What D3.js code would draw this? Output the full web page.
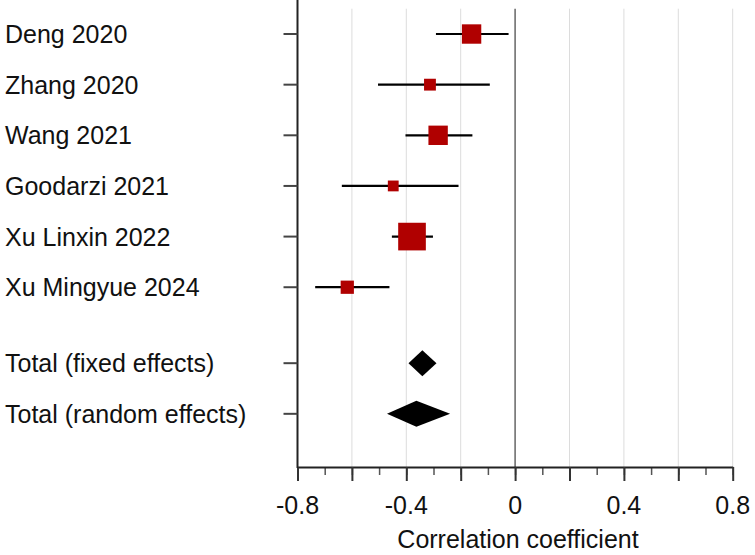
<!DOCTYPE html>
<html lang="en">
<head>
<meta charset="UTF-8">
<title>Forest plot</title>
<script src="https://d3js.org/d3.v7.min.js"></script>
<style>
  body { margin: 0; background: #fff; }
  svg { display: block; font-family: 'Liberation Sans', Arial, sans-serif; }
  .lbl { font-size: 25px; fill: #111; }
</style>
</head>
<body>
<svg width="755" height="555"></svg>
<script>
// study data
const studies = ["Deng 2020", "Zhang 2020", "Wang 2021", "Goodarzi 2021", "Xu Linxin 2022", "Xu Mingyue 2024"];
const estimate = [-0.160, -0.313, -0.283, -0.448, -0.379, -0.617];
const lower    = [-0.291, -0.504, -0.403, -0.637, -0.453, -0.735];
const upper    = [-0.024, -0.093, -0.157, -0.208, -0.302, -0.462];
const weight   = [19.3, 7.2, 19.3, 6.0, 39.3, 9.0];

// pooled
const pooled      = ["Total (fixed effects)", "Total (random effects)"];
const pooledEst   = [-0.341, -0.363];
const pooledLower = [-0.392, -0.471];
const pooledUpper = [-0.289, -0.239];

const xTicks = [-0.8, -0.4, 0, 0.4, 0.8];

const svg = d3.select("svg");

const x = d3.scaleLinear().domain([-0.8, 0.8]).range([297.5, 732.7]);
// row positions: studies 0..5, gap, pooled at 6.5 and 7.5
const y = d3.scaleLinear().domain([-0.5, 8.55]).range([8.7, 467]);
const size = d3.scaleSqrt().domain([0, 40]).range([0, 27.9]);

const rows = studies.map((s, i) => ({name: s, pos: i, est: estimate[i], lo: lower[i], hi: upper[i], w: weight[i]}));
const prow = pooled.map((s, i) => ({name: s, pos: 6.5 + i, est: pooledEst[i], lo: pooledLower[i], hi: pooledUpper[i]}));
const allRows = rows.concat(prow);

const yTop = y(-0.5), yBot = y(8.55);

// gridlines every 0.2
svg.append("g").selectAll("line")
  .data(d3.range(-0.6, 0.81, 0.2).filter(v => Math.abs(v) > 1e-6))
  .join("line")
  .attr("x1", d => x(d)).attr("x2", d => x(d))
  .attr("y1", yTop).attr("y2", yBot)
  .attr("stroke", "#dcdcdc").attr("stroke-width", 1);

// zero line
svg.append("line")
  .attr("x1", x(0)).attr("x2", x(0))
  .attr("y1", yTop).attr("y2", yBot)
  .attr("stroke", "#666").attr("stroke-width", 1.5);

// x axis: minor ticks then major ticks
svg.append("g")
  .attr("transform", `translate(0,${yBot})`)
  .call(d3.axisBottom(x).tickValues(d3.range(-0.8, 0.81, 0.1)).tickSize(8).tickFormat(""))
  .call(g => g.select(".domain").remove())
  .call(g => g.selectAll("line").attr("stroke", "#555").attr("stroke-width", 1.5));

svg.append("g")
  .attr("transform", `translate(0,${yBot})`)
  .call(d3.axisBottom(x).tickValues(d3.range(-0.8, 0.81, 0.2)).tickSize(14).tickSizeOuter(0).tickFormat(""))
  .call(g => g.select(".domain").attr("stroke", "#222").attr("stroke-width", 2))
  .call(g => g.selectAll(".tick line").attr("stroke", "#333").attr("stroke-width", 2));

svg.append("g").selectAll("text")
  .data(xTicks)
  .join("text")
  .attr("class", "lbl")
  .attr("x", d => x(d)).attr("y", yBot + 47)
  .attr("text-anchor", "middle")
  .text(d => d === 0 ? "0" : d.toFixed(1));

svg.append("text")
  .attr("class", "lbl")
  .attr("x", 518).attr("y", 548)
  .attr("text-anchor", "middle")
  .text("Correlation coefficient");

// left axis
svg.append("line")
  .attr("x1", x(-0.8)).attr("x2", x(-0.8))
  .attr("y1", 0).attr("y2", yBot + 1)
  .attr("stroke", "#222").attr("stroke-width", 2);

svg.append("g").selectAll("line")
  .data(allRows)
  .join("line")
  .attr("x1", x(-0.8) - 14).attr("x2", x(-0.8))
  .attr("y1", d => y(d.pos)).attr("y2", d => y(d.pos))
  .attr("stroke", "#444").attr("stroke-width", 2);

// row labels
svg.append("g").selectAll("text")
  .data(allRows)
  .join("text")
  .attr("class", "lbl")
  .attr("x", 5).attr("y", d => y(d.pos))
  .attr("dy", "0.36em")
  .text(d => d.name);

// CI lines
svg.append("g").selectAll("line")
  .data(rows)
  .join("line")
  .attr("x1", d => x(d.lo)).attr("x2", d => x(d.hi))
  .attr("y1", d => y(d.pos)).attr("y2", d => y(d.pos))
  .attr("stroke", "#000").attr("stroke-width", 2.2);

// weight squares
svg.append("g").selectAll("rect")
  .data(rows)
  .join("rect")
  .attr("x", d => x(d.est) - size(d.w) / 2)
  .attr("y", d => y(d.pos) - size(d.w) / 2)
  .attr("width", d => size(d.w)).attr("height", d => size(d.w))
  .attr("fill", "#b00000");

// pooled diamonds
const dh = 13;
svg.append("g").selectAll("path")
  .data(prow)
  .join("path")
  .attr("d", d => {
    const cy = y(d.pos);
    return `M${x(d.lo)},${cy}L${x(d.est)},${cy - dh}L${x(d.hi)},${cy}L${x(d.est)},${cy + dh}Z`;
  })
  .attr("fill", "#000");
</script>
</body>
</html>
